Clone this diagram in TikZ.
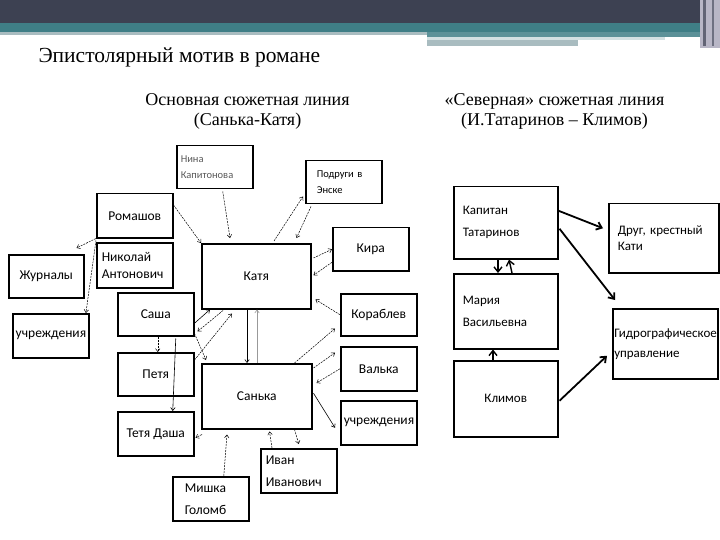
\documentclass[tikz,border=0pt]{standalone}
\usepackage{fontspec}
\setmainfont{Liberation Serif}
\newfontfamily\boxfont{Carlito}
\usetikzlibrary{arrows.meta,calc}
\definecolor{bandDark}{HTML}{3D4152}
\definecolor{bandTeal}{HTML}{3F7E86}
\definecolor{bandLight}{HTML}{A9BCC0}
\definecolor{bandPale}{HTML}{D3E0E2}
\definecolor{bandSide}{HTML}{B8B6C6}

\begin{document}
\begin{tikzpicture}[
		x=1pt, y=-1pt,
		box/.style={draw, line width=1.5pt, anchor=north west, inner sep=3pt,
			minimum width=76pt, minimum height=44pt,
			font=\boxfont\fontsize{13.5}{17}\selectfont},
		small box/.style={box, align=left, text width=68pt,
			font=\boxfont\fontsize{10.5}{16.5}\selectfont},
		wide box/.style={box, align=left, inner sep=9pt, minimum width=104pt,
			minimum height=72pt, text width=86pt},
		link/.style={line width=0.5pt, dash pattern=on 2pt off 1pt,
			-{Straight Barb[length=3pt,width=4.5pt]}},
		plain link/.style={line width=0.6pt, -{Straight Barb[length=3pt,width=4.5pt]}},
		bold link/.style={line width=1.8pt, -{Straight Barb[length=5pt,width=8pt]}}
	]
	\useasboundingbox (0,0) rectangle (720,540);
	\fill[bandDark] (0,0) rectangle (720,23);
	\fill[bandTeal] (0,23) rectangle (720,32);
	\fill[bandLight] (0,32) rectangle (427,35);
	\fill[bandTeal!85!white] (427,32) rectangle (700,37);
	\fill[bandPale] (427,37) rectangle (665,40);
	\fill[bandLight] (427,40) rectangle (578,46);
	\fill[bandSide] (700,0) rectangle (720,48);
	\fill[bandDark!70!bandSide] (703,0) rectangle (706,46);
	\fill[bandDark!60!bandSide] (712,0) rectangle (714,46);

	\node[anchor=base west, font=\fontsize{21.5}{24}\selectfont] (title) at (35,63)
		{Эпистолярный мотив в романе};
	\node[align=center, font=\fontsize{18}{19.5}\selectfont] (mainline) at (247.5,111.5)
		{Основная сюжетная линия\\(Санька-Катя)};
	\node[align=center, font=\fontsize{18}{19.5}\selectfont] (northline) at (554.5,111.5)
		{«Северная» сюжетная линия\\(И.Татаринов – Климов)};

	\node[small box, text=black!65, minimum height=43pt] (nina) at (176,145) {Нина\\Капитонова};
	\node[small box, inner xsep=11pt, text width=54pt, minimum height=43pt] (podrugi)
		at (305,160) {Подруги в\\Энске};
	\node[box] (romashov) at (96,193) {Ромашов};
	\node[box, align=left, inner xsep=5pt, text width=66pt, minimum height=45pt] (nikolai)
		at (96,242) {Николай\\Антонович};
	\node[box, minimum width=75pt, minimum height=43pt] (zhurnaly) at (8,254) {Журналы};
	\node[box, minimum width=75pt] (uchrleft) at (12,313) {учреждения};
	\node[box, minimum width=109pt, minimum height=65pt] (katya) at (201,243) {Катя};
	\node[box, minimum height=43pt] (kira) at (332,227) {Кира};
	\node[box, minimum height=42pt] (korablev) at (340,293) {Кораблев};
	\node[box, minimum height=43pt] (sasha) at (117,292) {Саша};
	\node[box, minimum height=43pt] (petya) at (117,352) {Петя};
	\node[box] (dasha) at (117,411) {Тетя Даша};
	\node[box, minimum width=110pt, minimum height=65pt] (sanka) at (201,363) {Санька};
	\node[box] (valka) at (340,346) {Валька};
	\node[box] (uchrright) at (340,400) {учреждения};
	\node[box, align=left, inner xsep=5pt, text width=66pt,
		font=\boxfont\fontsize{13.5}{22}\selectfont] (ivan) at (260,448) {Иван\\Иванович};
	\node[box, align=left, inner xsep=12pt, text width=52pt,
		font=\boxfont\fontsize{13.5}{22}\selectfont] (mishka) at (172,476) {Мишка\\Голомб};

	\node[wide box, font=\boxfont\fontsize{13}{22}\selectfont] (tatarinov) at (453,186)
		{Капитан\\Татаринов};
	\node[wide box, minimum height=75pt, font=\boxfont\fontsize{13}{22}\selectfont] (maria)
		at (453,273) {Мария\\Васильевна};
	\node[box, minimum width=104pt, minimum height=76pt, font=\boxfont\fontsize{13}{17}\selectfont]
		(klimov) at (453,360) {Климов};
	\node[wide box, minimum width=110pt, minimum height=69pt, text width=92pt,
		font=\boxfont\fontsize{13}{16}\selectfont] (drug) at (608,203) {Друг, крестный\\Кати};
	\node[wide box, inner sep=1.5pt, minimum width=105pt, minimum height=70pt, text width=102pt,
		font=\boxfont\fontsize{13}{20}\selectfont] (gidro) at (612,308)
		{Гидрографическое\\управление};

	\draw[link] ($(romashov.north east)+(0,12)$) -- (katya.north west);
	\draw[link] ($(nina.south)+(8,2)$) -- ($(katya.north west)+(29,-5)$);
	\draw[link] ($(katya.north west)+(73,-2)$) -- ($(podrugi.south west)+(-2,-8)$);
	\draw[link] ($(podrugi.south west)+(6,2)$) -- ($(katya.north east)+(-15,-5)$);
	\draw[link] ($(katya.north east)+(2,15)$) -- (kira.west);
	\draw[link] ($(kira.west)+(0,13)$) -- ($(katya.east)+(2,-1)$);
	\draw[link] (korablev.west) -- ($(katya.south east)+(4,-10)$);
	\draw[link] (romashov.south west) -- ($(zhurnaly.north east)+(-8,-6)$);
	\draw[link] ($(romashov.south west)+(0,2)$) -- ($(uchrleft.north east)+(-4,0)$);
	\draw[plain link] ($(sasha.east)+(0,9)$) -- ($(katya.south west)+(9,0)$);
	\draw[link] ($(katya.south west)+(22,1)$) -- ($(sasha.south east)+(3,-5)$);
	\draw[link] ($(petya.north east)+(0,8)$) -- ($(katya.south west)+(31,4)$);
	\draw[link] ($(sasha.south east)+(0,-3)$) -- ($(sanka.north west)+(5,-3)$);
	\draw[plain link] ($(katya.south west)+(46,0)$) -- ($(sanka.north west)+(46,0)$);
	\draw[plain link, black!40] ($(sanka.north west)+(56,0)$) -- ($(katya.south west)+(56,0)$);
	\draw[link] ($(sanka.north east)+(-18,0)$) -- ($(korablev.south west)+(-5,-8)$);
	\draw[link] ($(sanka.north east)+(1,5)$) -- ($(valka.west)+(-5,-16)$);
	\draw[link] (valka.west) -- ($(sanka.north east)+(4,20)$);
	\draw[plain link] ($(sanka.east)+(1,-3)$) -- ($(uchrright.west)+(-5,5)$);
	\draw[link] ($(sanka.south east)+(-18,0)$) -- ($(ivan.north)+(0,-4)$);
	\draw[link] ($(ivan.north west)+(12,0)$) -- ($(sanka.south east)+(-43,2)$);
	\draw[link] ($(mishka.north)+(13,0)$) -- ($(sanka.south west)+(26,5)$);
	\draw[link] ($(sanka.south west)+(1,5)$) -- ($(dasha.east)+(1,4)$);
	\draw[link] ($(sasha.south)+(2,0)$) -- ($(petya.north)+(2,0)$);
	\draw[plain link] ($(sasha.south)+(20,2)$) -- ($(dasha.north)+(17,0)$);

	\draw[bold link] ($(tatarinov.east)+(0,-12)$) -- ($(drug.west)+(-5,-10)$);
	\draw[bold link] ($(tatarinov.east)+(1,6)$) -- ($(gidro.north west)+(3,-8)$);
	\draw[bold link] ($(klimov.east)+(1,2)$) -- ($(gidro.west)+(-5,12)$);
	\draw[bold link, line width=1.4pt] ($(tatarinov.south west)+(45,0)$) -- ($(maria.north west)+(45,0)$);
	\draw[bold link, line width=1.4pt] ($(maria.north west)+(59,0)$) -- ($(tatarinov.south west)+(56,0)$);
	\draw[bold link, line width=1.4pt] ($(klimov.north west)+(40,0)$) -- ($(maria.south west)+(40,0)$);
\end{tikzpicture}
\end{document}
